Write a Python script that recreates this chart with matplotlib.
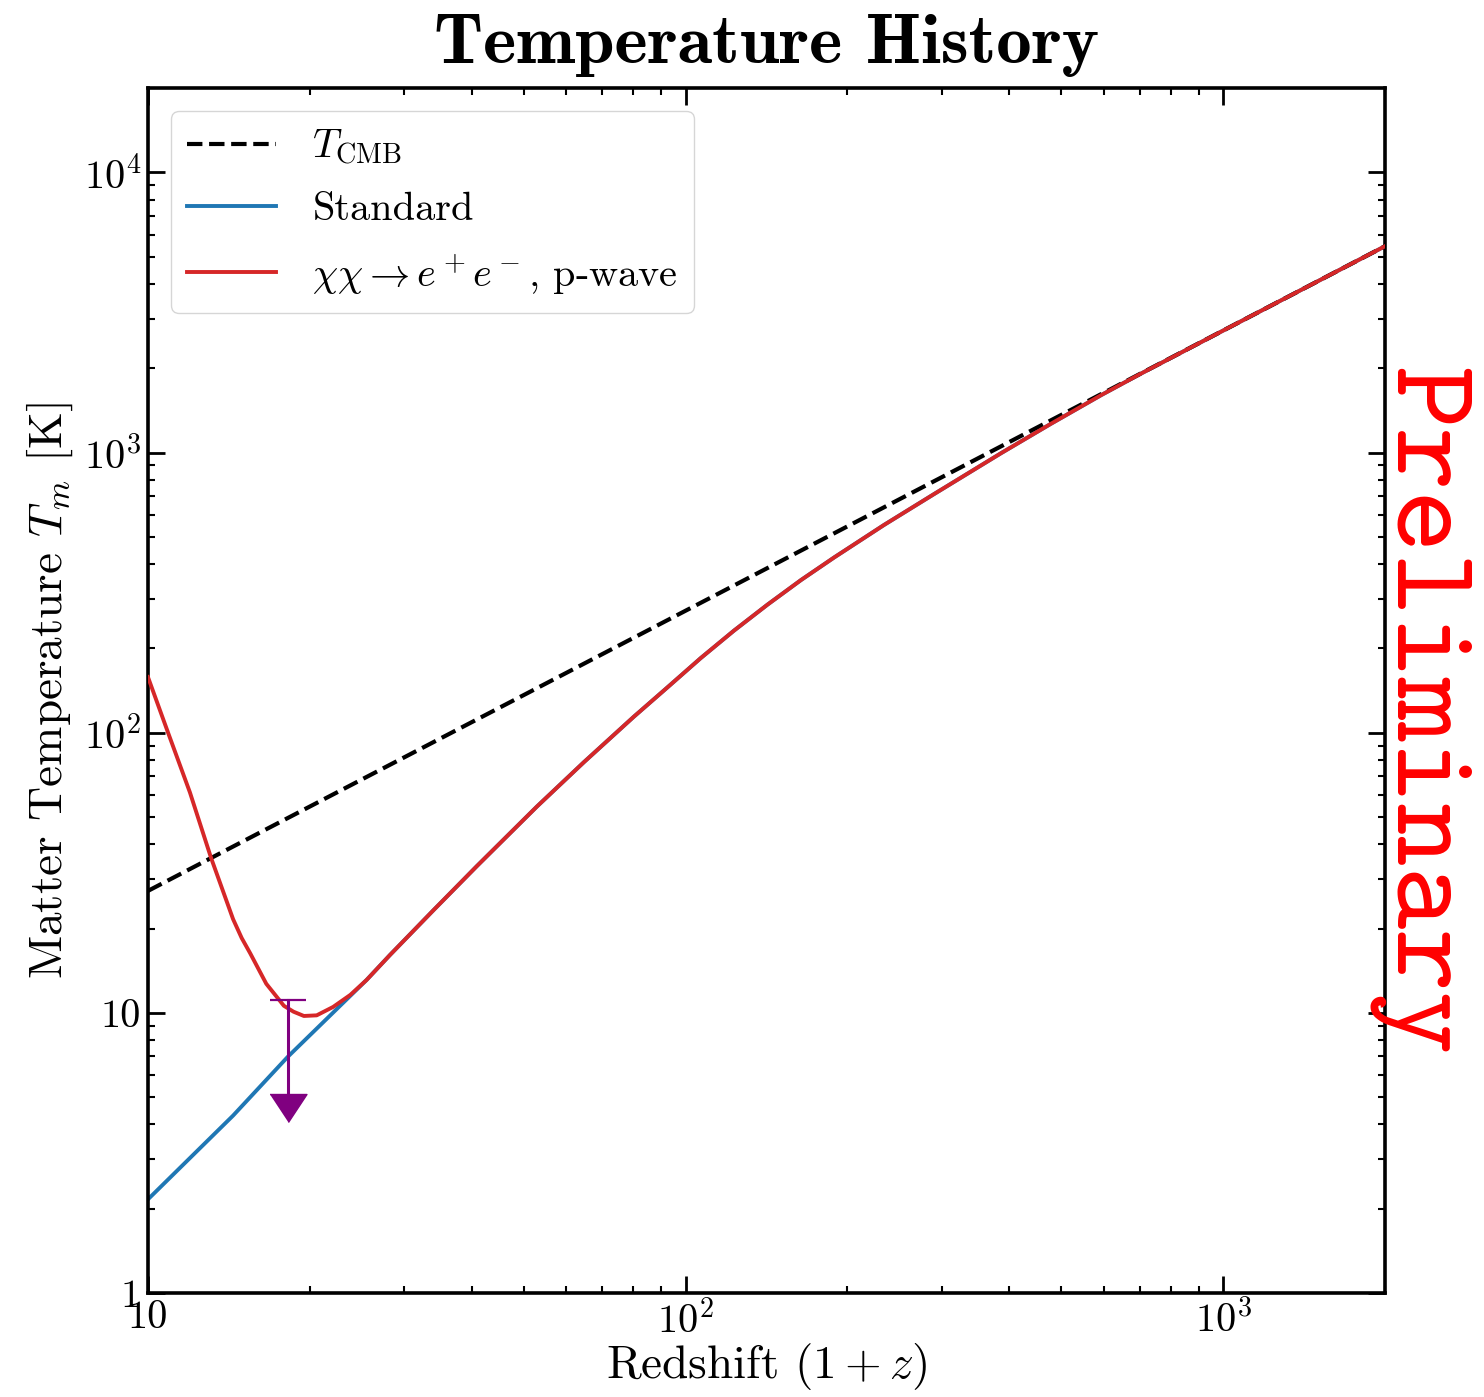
import numpy as np
import matplotlib
matplotlib.use('Agg')
import matplotlib.pyplot as plt

# 数据：从参考图中读取
z_cmb = [10, 2000]
T_cmb = [27.25, 5450]

# 标准情形（25.5 之后与 p-wave 曲线重合）
z_std = [10, 14.4, 18.2, 25.5, 28.2, 34.0, 40.9, 52.9, 64.7, 80.1, 92.4, 106.7, 123, 142,
         164, 189, 234, 290, 386, 478, 593, 700, 1000, 1397, 2000]
T_std = [2.16, 4.3, 6.97, 13.1, 16.1, 23.3, 33.4, 54.5, 78.5, 114.0, 144.8, 184.6, 231.3, 286.4,
         350.8, 422.3, 551.6, 711.2, 994, 1266, 1603, 1904, 2725, 3807, 5450]

z_pwave = [10, 10.9, 11.97, 13.1, 14.4, 14.94, 15.5, 16.6, 17.9, 18.65, 19.5, 20.6, 22.1,
           23.8, 25.5, 28.2, 34.0, 40.9, 52.9, 64.7, 80.1, 92.4, 106.7, 123, 142,
           164, 189, 234, 290, 386, 478, 593, 700, 1000, 1397, 2000]
T_pwave = [158, 100, 61.2, 35.8, 21.6, 18.5, 16.3, 12.7, 10.6, 10.1, 9.75, 9.8, 10.5,
           11.6, 13.1, 16.1, 23.3, 33.4, 54.5, 78.5, 114.0, 144.8, 184.6, 231.3, 286.4,
           350.8, 422.3, 551.6, 711.2, 994, 1266, 1603, 1904, 2725, 3807, 5450]

# EDGES 上限
edges_z = 18.25
edges_T = 11.1
edges_T_tip = 4.58   # 箭头三角形中心

xticks = [10, 100, 1000]
xticklabels = ['10', r'$10^2$', r'$10^3$']
yticks = [1, 10, 100, 1000, 10000]
yticklabels = ['1', '10', r'$10^2$', r'$10^3$', r'$10^4$']

plt.rcParams['font.family'] = 'serif'
plt.rcParams['font.serif'] = ['cmr10']
plt.rcParams['mathtext.fontset'] = 'cm'
plt.rcParams['axes.formatter.use_mathtext'] = True

fig = plt.figure(figsize=(14.84, 13.97), dpi=100)
ax = fig.add_axes([0.0997, 0.0744, 0.8336, 0.8626])

ax.plot(z_cmb, T_cmb, 'k--', lw=3, label=r'$T_{\rm CMB}$', zorder=3)
ax.plot(z_std, T_std, color='#1f77b4', lw=2.8, label='Standard', zorder=2)
ax.plot(z_pwave, T_pwave, color='#d62728', lw=2.8, label=r'$\chi\chi \to e^+e^-$, p-wave',
        zorder=4, solid_joinstyle='round')

# 上限箭头
ax.plot([edges_z, edges_z], [edges_T, edges_T_tip], color='purple', lw=2.2, zorder=5)
ax.plot([edges_z], [edges_T], marker='_', ms=26.6, mew=1.6, color='purple', zorder=5)
ax.plot([edges_z], [edges_T_tip], marker=[(-1.32, 1), (1.32, 1), (0, -1)], ms=26.6,
        color='purple', mec='purple', zorder=5)

ax.set_xscale('log')
ax.set_yscale('log')
ax.set_xlim(10, 2000)
ax.set_ylim(1, 2e4)
ax.set_xticks(xticks, xticklabels)
ax.set_yticks(yticks, yticklabels)
ax.xaxis.set_minor_formatter(matplotlib.ticker.NullFormatter())
ax.yaxis.set_minor_formatter(matplotlib.ticker.NullFormatter())

ax.tick_params(which='both', direction='in', top=True, right=True, labelsize=29, pad=5)
ax.tick_params(which='major', length=12, width=2)
ax.tick_params(which='minor', length=5, width=1.5)
for s in ax.spines.values():
    s.set_linewidth(2.6)

ax.set_xlabel(r'Redshift $(1+z)$', fontsize=34, labelpad=0)
ax.set_ylabel(r'Matter Temperature $T_m$ [K]', fontsize=34, labelpad=6)
ax.set_title('Temperature History', fontsize=51, family='cmb10', pad=18)

ax.legend(loc='upper left', fontsize=29, handlelength=2.2, borderaxespad=0.58,
          labelspacing=0.6, handletextpad=0.9, edgecolor='#cccccc', fancybox=True)

fig.text(0.9555, 0.4903, 'Preliminary', color='red', fontsize=86, family='cmtt10',
         rotation=-90, ha='center', va='center')

fig.savefig('out.png', dpi=100)
